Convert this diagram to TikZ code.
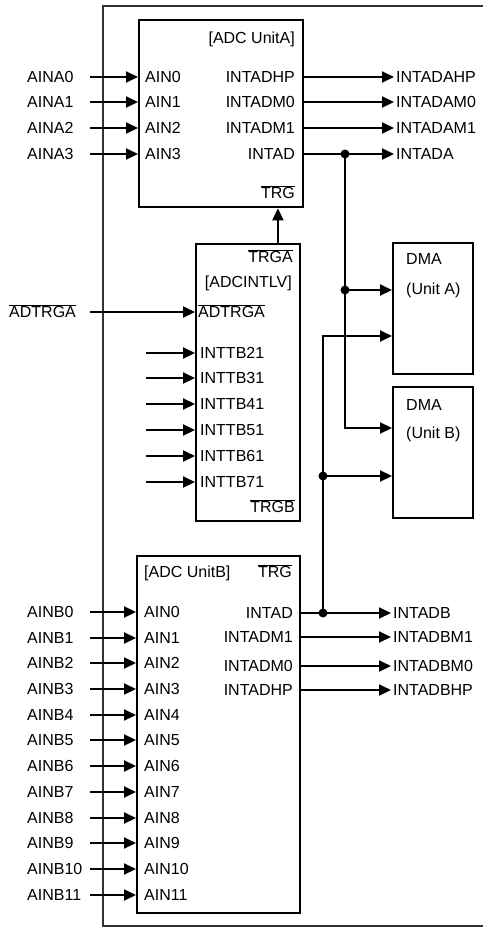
\documentclass[tikz,border=0pt]{standalone}
\usepackage{fontspec}
\setmainfont{Liberation Sans}
\usetikzlibrary{arrows.meta}
\newcommand{\ovl}[1]{$\overline{\mbox{#1}}$}

\begin{document}
\begin{tikzpicture}[x=1pt, y=-1pt,
    arr/.style={-{Triangle[length=12pt,width=11pt]}, line width=2pt},
    blk/.style={draw, line width=2.3pt, anchor=north west, inner sep=0pt},
    lbl/.style={font=\fontsize{16}{19}\selectfont, inner sep=0pt, text height=11.5pt, text depth=0pt},
    dot/.style={circle, fill, inner sep=0pt, minimum size=9pt}
]
\useasboundingbox (0,0) rectangle (483,927);

% === Rahmen ===
\draw[line width=1.3pt, black!80] (483,6) -- (103,6) -- (103,926) -- (483,926);

% === Bloecke ===
\node[blk, minimum width=164pt, minimum height=187pt] (adcA) at (138,19) {};
\node[blk, minimum width=104pt, minimum height=277pt] (intlv) at (195,243) {};
\node[blk, minimum width=80pt, minimum height=131pt] (dmaA) at (392,242) {};
\node[blk, minimum width=80pt, minimum height=131pt] (dmaB) at (392,386) {};
\node[blk, minimum width=163pt, minimum height=357pt] (adcB) at (136,555) {};

% === ADC UnitA ===
\node[lbl, anchor=east] (titA) at (295,38) {[ADC UnitA]};
\node[lbl, anchor=east] (trgA) at (295,193) {\ovl{TRG}};
\foreach \i/\y in {0/77,1/102,2/128,3/154} {
  \node[lbl, anchor=west] (ina\i) at (27,\y) {AINA\i};
  \coordinate (sa\i) at (90,\y);
  \draw[arr] (sa\i) -- (sa\i -| adcA.west);
  \node[lbl, anchor=west] (pina\i) at (145,\y) {AIN\i};
}
\foreach \s/\t/\y [count=\k] in {INTADHP/INTADAHP/77, INTADM0/INTADAM0/102,
    INTADM1/INTADAM1/128, INTAD/INTADA/154} {
  \node[lbl, anchor=east] (pa\k) at (295,\y) {\s};
  \node[lbl, anchor=west] (outa\k) at (396,\y) {\t};
  \draw[arr, shorten >=2pt] (adcA.east |- outa\k.west) -- (outa\k.west);
}

% === ADCINTLV ===
\node[lbl, anchor=east] (trga) at (293,257) {\ovl{TRGA}};
\node[lbl, anchor=east] (titI) at (292,282) {[ADCINTLV]};
\node[lbl, anchor=west] (adtrgIn) at (198,312) {\ovl{ADTRGA}};
\node[lbl, anchor=east] (trgb) at (295,507) {\ovl{TRGB}};
\node[lbl, anchor=west] (adtrg) at (9,312) {\ovl{ADTRGA}};
\coordinate (sadtrg) at (90,312);
\draw[arr] (sadtrg) -- (sadtrg -| intlv.west);
\foreach \n/\y in {21/353,31/378,41/404,51/430,61/456,71/482} {
  \node[lbl, anchor=west] (tb\n) at (200,\y) {INTTB\n};
  \coordinate (stb\n) at (146,\y);
  \draw[arr] (stb\n) -- (stb\n -| intlv.west);
}
\draw[arr] (intlv.north -| trgA.center) -- (adcA.south -| trgA.center);

% === DMA ===
\node[lbl, anchor=west] (dmaAt) at (406,259) {DMA};
\node[lbl, anchor=west] (dmaAu) at (406,289) {(Unit A)};
\node[lbl, anchor=west] (dmaBt) at (406,405) {DMA};
\node[lbl, anchor=west] (dmaBu) at (406,433) {(Unit B)};
\coordinate (dmaAin1) at (392,290);
\coordinate (dmaAin2) at (392,336);
\coordinate (dmaBin1) at (392,428);
\coordinate (dmaBin2) at (392,476);

% === ADC UnitB ===
\node[lbl, anchor=west] (titB) at (144,572) {[ADC UnitB]};
\node[lbl, anchor=east] (trgB) at (292,572) {\ovl{TRG}};
\foreach \i/\y in {0/612,1/638,2/663,3/689,4/715,5/740,6/766,7/792,8/818,9/843,10/869,11/895} {
  \node[lbl, anchor=west] (inb\i) at (27,\y) {AINB\i};
  \coordinate (sb\i) at (90,\y);
  \draw[arr] (sb\i) -- (sb\i -| adcB.west);
  \node[lbl, anchor=west] (pinb\i) at (144,\y) {AIN\i};
}
\foreach \s/\t/\y [count=\k] in {INTAD/INTADB/613, INTADM1/INTADBM1/637,
    INTADM0/INTADBM0/666, INTADHP/INTADBHP/690} {
  \node[lbl, anchor=east] (pb\k) at (293,\y) {\s};
  \node[lbl, anchor=west] (outb\k) at (393,\y) {\t};
  \draw[arr, shorten >=2pt] (adcB.east |- outb\k.west) -- (outb\k.west);
}

% === Verbindungen zu DMA ===
\node[dot] (ja1) at (345,154) {};
\node[dot] (ja2) at (345,290) {};
\node[dot] (jb1) at (323,613) {};
\node[dot] (jb2) at (323,476) {};
\draw[arr] (ja1.center) |- (dmaBin1);
\draw[arr] (ja2.center) -- (dmaAin1);
\draw[arr] (jb1.center) |- (dmaAin2);
\draw[arr] (jb2.center) -- (dmaBin2);

\end{tikzpicture}
\end{document}
